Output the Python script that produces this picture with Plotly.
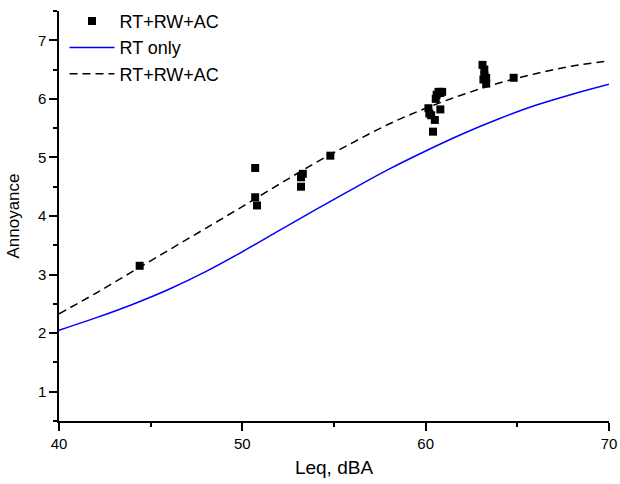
import plotly.graph_objects as go

# Measured points (RT+RW+AC)
leq_pts = [44.4, 50.7, 50.7, 50.8, 53.2, 53.2, 53.3, 54.8,
           60.15, 60.2, 60.3, 60.4, 60.5, 60.55, 60.6, 60.7, 60.8, 60.8, 60.9,
           63.1, 63.2, 63.2, 63.15, 63.3, 63.3, 64.8]
ann_pts = [3.15, 4.82, 4.32, 4.18, 4.50, 4.66, 4.72, 5.03,
           5.84, 5.75, 5.72, 5.44, 5.64, 6.00, 6.07, 6.12, 5.82, 6.10, 6.12,
           6.58, 6.50, 6.40, 6.33, 6.36, 6.26, 6.36]

# Fitted curves
leq_curve = [40, 42, 44, 46, 48, 50, 52, 54, 56, 58, 60, 62, 64, 66, 68, 70]
rt_only = [2.05, 2.26, 2.49, 2.75, 3.05, 3.39, 3.75, 4.11, 4.46, 4.80, 5.11, 5.40, 5.66, 5.89, 6.08, 6.25]
rt_rw_ac = [2.33, 2.68, 3.05, 3.42, 3.79, 4.16, 4.54, 4.91, 5.25, 5.57, 5.84, 6.07, 6.27, 6.43, 6.56, 6.65]

x_ticks = [40, 50, 60, 70]
y_ticks = [1, 2, 3, 4, 5, 6, 7]

font = "Liberation Sans, Arial, sans-serif"

fig = go.Figure()
fig.add_trace(go.Scatter(x=leq_pts, y=ann_pts, mode="markers", name="RT+RW+AC",
                         marker=dict(symbol="square", size=8, color="black")))
fig.add_trace(go.Scatter(x=leq_curve, y=rt_only, mode="lines", name="RT only",
                         line=dict(color="#0000FF", width=1.5, shape="spline")))
fig.add_trace(go.Scatter(x=leq_curve, y=rt_rw_ac, mode="lines", name="RT+RW+AC",
                         line=dict(color="black", width=1.5, dash="8px,5px", shape="spline")))

axis_common = dict(showline=True, linecolor="black", linewidth=1.5, ticks="outside",
                   ticklen=8, tickwidth=1.5, tickcolor="black", showgrid=False,
                   zeroline=False, mirror=False, ticklabeloverflow="allow",
                   automargin=False,
                   tickfont=dict(family=font, size=15, color="black"))

fig.update_xaxes(range=[40, 70], tickvals=x_ticks,
                 minor=dict(ticks="outside", ticklen=4, tickwidth=1.5, tickcolor="black", dtick=5, tick0=40),
                 title=dict(text="Leq, dBA", font=dict(family=font, size=19, color="black"), standoff=10),
                 **axis_common)
fig.update_yaxes(range=[0.5, 7.5], tickvals=y_ticks,
                 minor=dict(ticks="outside", ticklen=4, tickwidth=1.5, tickcolor="black", dtick=0.5, tick0=0.5),
                 title=dict(text="Annoyance", font=dict(family=font, size=17, color="black"), standoff=14),
                 **axis_common)

fig.update_layout(
    width=620, height=484,
    margin=dict(l=59, r=11, t=11, b=63, autoexpand=False),
    plot_bgcolor="white", paper_bgcolor="white",
    font=dict(family=font, color="black"),
    legend=dict(x=0.01, y=1.02, xanchor="left", yanchor="top",
                bgcolor="rgba(0,0,0,0)", font=dict(family=font, size=18, color="black"),
                tracegroupgap=0, itemwidth=45),
    showlegend=True,
)

fig.write_html("out.html", config={"displayModeBar": False},
               post_script="document.body.style.margin='0px';document.body.style.overflow='hidden';")
